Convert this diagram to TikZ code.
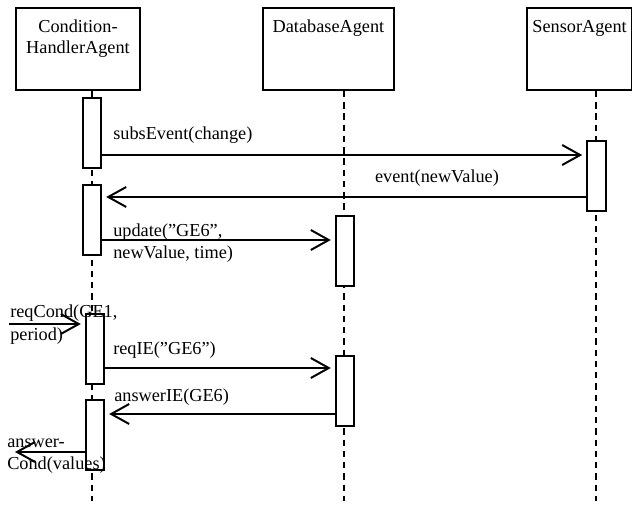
\documentclass[tikz,border=0pt]{standalone}
\usepackage{fontspec}
\setmainfont{Liberation Serif}
\usepackage{tikz}
\usetikzlibrary{arrows.meta,positioning}

\begin{document}
\begin{tikzpicture}[
  agent/.style={draw,line width=1.4pt,minimum height=2.05cm,inner sep=0pt,anchor=north west},
  agentname/.style={anchor=north,align=center,inner sep=0pt,yshift=-0.32cm,font=\fontsize{13}{15}\selectfont},
  lifeline/.style={line width=1.4pt,dash pattern=on 4.5pt off 3.5pt},
  act/.style={draw,fill=white,line width=1.4pt,minimum width=0.46cm,minimum height=1.75cm,inner sep=0pt},
  msg/.style={-{Straight Barb[length=4.5mm,width=5mm]},line width=1.4pt,shorten >=1mm},
  msgtext/.style={font=\fontsize{13}{16}\selectfont,inner sep=0pt}
]
\useasboundingbox (0,0) rectangle (15.8,12.625);

% agents
\node[agent,minimum width=3.1cm] (cha) at (0.375,12.45) {};
\node[agent,minimum width=3.275cm] (db) at (6.55,12.45) {};
\node[agent,minimum width=2.63cm] (sensor) at (13.15,12.45) {};
\node[agentname] (chaName) at (cha.north) {Condition-\\HandlerAgent};
\node[agentname] (dbName) at (db.north) {DatabaseAgent};
\node[agentname] (sensorName) at (sensor.north) {SensorAgent};

% lifelines
\coordinate (chaEnd) at (2.3,0.1);
\coordinate (dbEnd) at (8.6,0.1);
\coordinate (sensorEnd) at (14.9,0.1);
\draw[lifeline] (cha.south -| chaEnd) -- (chaEnd);
\draw[lifeline] (db.south -| dbEnd) -- (dbEnd);
\draw[lifeline] (sensor.south -| sensorEnd) -- (sensorEnd);

% activations
\node[act] (c1) at (2.3,9.3) {};
\node[act] (c2) at (2.3,7.125) {};
\node[act] (s1) at (14.91,8.225) {};
\node[act] (d1) at (8.625,6.34) {};
\node[act] (c3) at (2.375,3.91) {};
\node[act] (d2) at (8.625,2.85) {};
\node[act] (c4) at (2.375,1.74) {};

% messages
\coordinate (r1) at (0,8.75);
\coordinate (r2) at (0,7.7);
\coordinate (r3) at (0,6.625);
\coordinate (r5) at (0,3.425);
\coordinate (r6) at (0,2.275);
\coordinate (inStart) at (0.225,4.525);
\coordinate (outEnd) at (0.375,1.325);
\draw[msg] (c1.east |- r1) -- (s1.west |- r1);
\draw[msg] (s1.west |- r2) -- (c2.east |- r2);
\draw[msg] (c2.east |- r3) -- (d1.west |- r3);
\draw[msg] (inStart) -- (c3.west |- inStart);
\draw[msg] (c3.east |- r5) -- (d2.west |- r5);
\draw[msg] (d2.west |- r6) -- (c4.east |- r6);
\draw[msg,shorten >=0pt] (c4.west |- outEnd) -- (outEnd);

\node[msgtext,anchor=base west] (t1) at (2.825,9.125) {subsEvent(change)};
\node[msgtext,anchor=base] (t2) at (10.925,8.05) {event(newValue)};
\node[msgtext,anchor=west,align=left] (t3) at (2.825,6.55) {update(”GE6”,\\newValue, time)};
\node[msgtext,anchor=west,align=left] (t4) at (0.25,4.51) {reqCond(GE1,\\period)};
\node[msgtext,anchor=base west] (t5) at (2.825,3.75) {reqIE(”GE6”)};
\node[msgtext,anchor=base west] (t6) at (2.85,2.575) {answerIE(GE6)};
\node[msgtext,anchor=west,align=left] (t7) at (0.175,1.225) {answer-\\Cond(values)};
\end{tikzpicture}
\end{document}
